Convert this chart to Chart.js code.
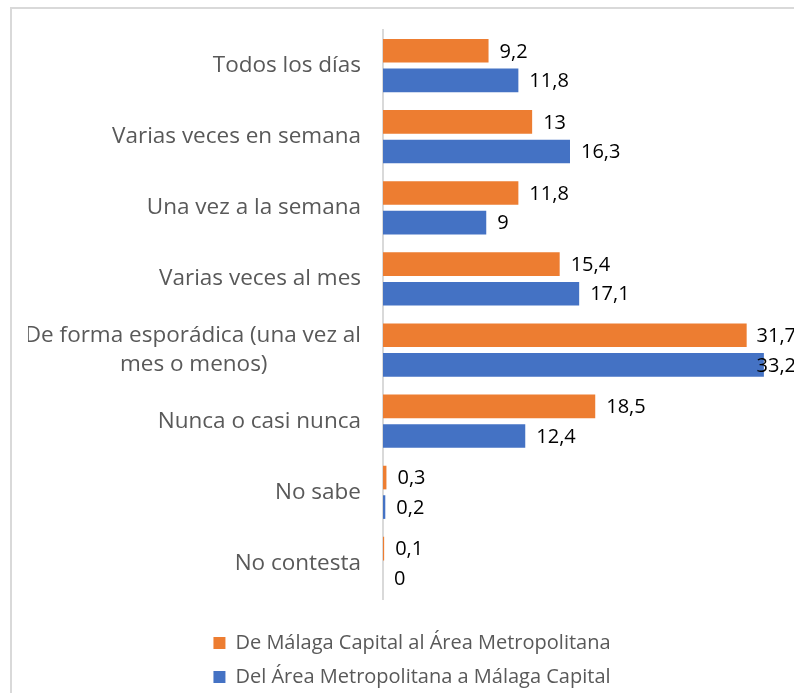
<!DOCTYPE html>
<html lang="es">
<head>
    <meta charset="UTF-8">
    <title>Frecuencia de desplazamientos</title>
    <script src="https://cdn.jsdelivr.net/npm/chart.js"></script>
    <style>
        html, body {
            margin: 0;
            padding: 0;
            background: #fff;
            overflow: hidden;
            width: 794px;
            height: 693px;
        }
        .frame {
            position: absolute;
            left: 10px;
            top: 7px;
            width: 900px;
            height: 800px;
            border-left: 2px solid #d9d9d9;
            border-top: 2px solid #d9d9d9;
        }
        .wrap {
            position: absolute;
            left: 11px;
            top: 8px;
            width: 803px;
            height: 689px;
        }
    </style>
</head>
<body>
    <div class="frame"></div>
    <div class="wrap"><canvas id="freqChart"></canvas></div>

    <script>
        // categorías (la segunda línea del texto largo va rellenada para centrarla)
        const categorias = [
            'Todos los días',
            'Varias veces en semana',
            'Una vez a la semana',
            'Varias veces al mes',
            ['De forma esporádica (una vez al', 'mes o menos)' + ' '.repeat(16)],
            'Nunca o casi nunca',
            'No sabe',
            'No contesta'
        ];
        const serieCapital = [9.2, 13, 11.8, 15.4, 31.7, 18.5, 0.3, 0.1];
        const serieArea = [11.8, 16.3, 9, 17.1, 33.2, 12.4, 0.2, 0];
        const nombres = ['De Málaga Capital al Área Metropolitana', 'Del Área Metropolitana a Málaga Capital'];

        const FONT = '"Open Sans", Lato, sans-serif';
        const PAD_L = 17;
        const EJE_X = 372; // borde izquierdo del área de trazado dentro del canvas

        // etiquetas de valor al final de cada barra, sin salirse del área de trazado
        const etiquetas = {
            id: 'etiquetas',
            afterDatasetsDraw(chart) {
                const ctx = chart.ctx;
                const right = chart.chartArea.right;
                ctx.save();
                ctx.font = '20px ' + FONT;
                ctx.fillStyle = '#000';
                ctx.textBaseline = 'middle';
                ctx.textAlign = 'left';
                chart.data.datasets.forEach((ds, i) => {
                    chart.getDatasetMeta(i).data.forEach((bar, j) => {
                        const txt = String(ds.data[j]).replace('.', ',');
                        const w = ctx.measureText(txt).width;
                        const x = Math.min(bar.x + 11, right - w);
                        ctx.fillText(txt, x, bar.y + 1);
                    });
                });
                ctx.restore();
            }
        };

        new Chart(document.getElementById('freqChart'), {
            type: 'bar',
            data: {
                labels: categorias,
                datasets: [
                    {
                        label: nombres[0],
                        data: serieCapital,
                        backgroundColor: '#ED7D31'
                    },
                    {
                        label: nombres[1],
                        data: serieArea,
                        backgroundColor: '#4472C4'
                    }
                ]
            },
            options: {
                indexAxis: 'y',
                responsive: true,
                maintainAspectRatio: false,
                animation: false,
                datasets: {
                    bar: { categoryPercentage: 0.83, barPercentage: 0.8 }
                },
                layout: {
                    padding: { top: 22, right: 18, left: PAD_L, bottom: 0 }
                },
                scales: {
                    x: {
                        min: 0,
                        max: 36,
                        grid: { display: false, drawTicks: false },
                        border: { display: false },
                        ticks: { display: false },
                        afterFit(scale) { scale.height = 20; }
                    },
                    y: {
                        grid: { display: false, drawTicks: false },
                        border: { display: true, color: '#d9d9d9', width: 2 },
                        ticks: {
                            color: '#595959',
                            padding: 22,
                            font: { family: FONT, size: 22.5, lineHeight: 1.25 }
                        },
                        afterFit(scale) {
                            scale.width = EJE_X - PAD_L;
                            scale.paddingTop = 0;
                            scale.paddingBottom = 0;
                        }
                    }
                },
                plugins: {
                    legend: {
                        position: 'bottom',
                        labels: {
                            boxWidth: 12,
                            boxHeight: 12,
                            padding: 14,
                            color: '#595959',
                            font: { family: FONT, size: 20 }
                        }
                    },
                    tooltip: { enabled: false }
                }
            },
            plugins: [etiquetas]
        });
    </script>
</body>
</html>
